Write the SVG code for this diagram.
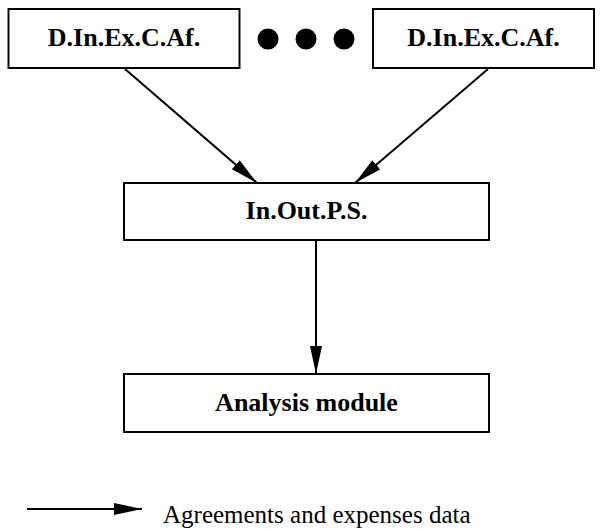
<svg xmlns="http://www.w3.org/2000/svg" width="602" height="529" viewBox="0 0 602 529">
  <style>
    .box { fill: #ffffff; stroke: #000000; stroke-width: 2; }
    .lbl { font-weight: bold; font-size: 26px; fill: #000000; text-anchor: middle; }
    .legend { font-size: 25px; fill: #000000; }
    .edge { stroke: #000000; stroke-width: 2; fill: none; marker-end: url(#head); }
  </style>
  <defs>
    <marker id="head" viewBox="0 0 28 12" refX="28" refY="6" markerWidth="28" markerHeight="12" markerUnits="userSpaceOnUse" orient="auto">
      <path d="M0,0 L28,6 L0,12 Z" fill="#000000"/>
    </marker>
  </defs>

  <rect width="602" height="529" fill="#ffffff"/>

  <g id="connectors">
    <line class="edge" x1="125" y1="69" x2="257" y2="183"/>
    <line class="edge" x1="488" y1="69" x2="355" y2="183"/>
    <line class="edge" x1="316" y1="240" x2="316" y2="374"/>
  </g>

  <g id="source-first">
    <rect class="box" x="8.5" y="9" width="231" height="59"/>
    <text class="lbl" x="124" y="46" font-family="Liberation Serif, Times New Roman, serif">D.In.Ex.C.Af.</text>
  </g>

  <g id="ellipsis">
    <circle cx="268" cy="39" r="10.5" fill="#000000"/>
    <circle cx="306" cy="39" r="10.5" fill="#000000"/>
    <circle cx="344" cy="39" r="10.5" fill="#000000"/>
  </g>

  <g id="source-last">
    <rect class="box" x="373" y="9" width="221" height="59"/>
    <text class="lbl" x="483.5" y="46" font-family="Liberation Serif, Times New Roman, serif">D.In.Ex.C.Af.</text>
  </g>

  <g id="in-out-ps">
    <rect class="box" x="124" y="183" width="365" height="57"/>
    <text class="lbl" x="306.5" y="219" font-family="Liberation Serif, Times New Roman, serif">In.Out.P.S.</text>
  </g>

  <g id="analysis-module">
    <rect class="box" x="124" y="374" width="365" height="58"/>
    <text class="lbl" x="306.5" y="411" font-family="Liberation Serif, Times New Roman, serif">Analysis module</text>
  </g>

  <g id="legend">
    <line class="edge" x1="27" y1="509" x2="142" y2="509"/>
    <text class="legend" x="163" y="523" font-family="Liberation Serif, Times New Roman, serif">Agreements and expenses data</text>
  </g>
</svg>
